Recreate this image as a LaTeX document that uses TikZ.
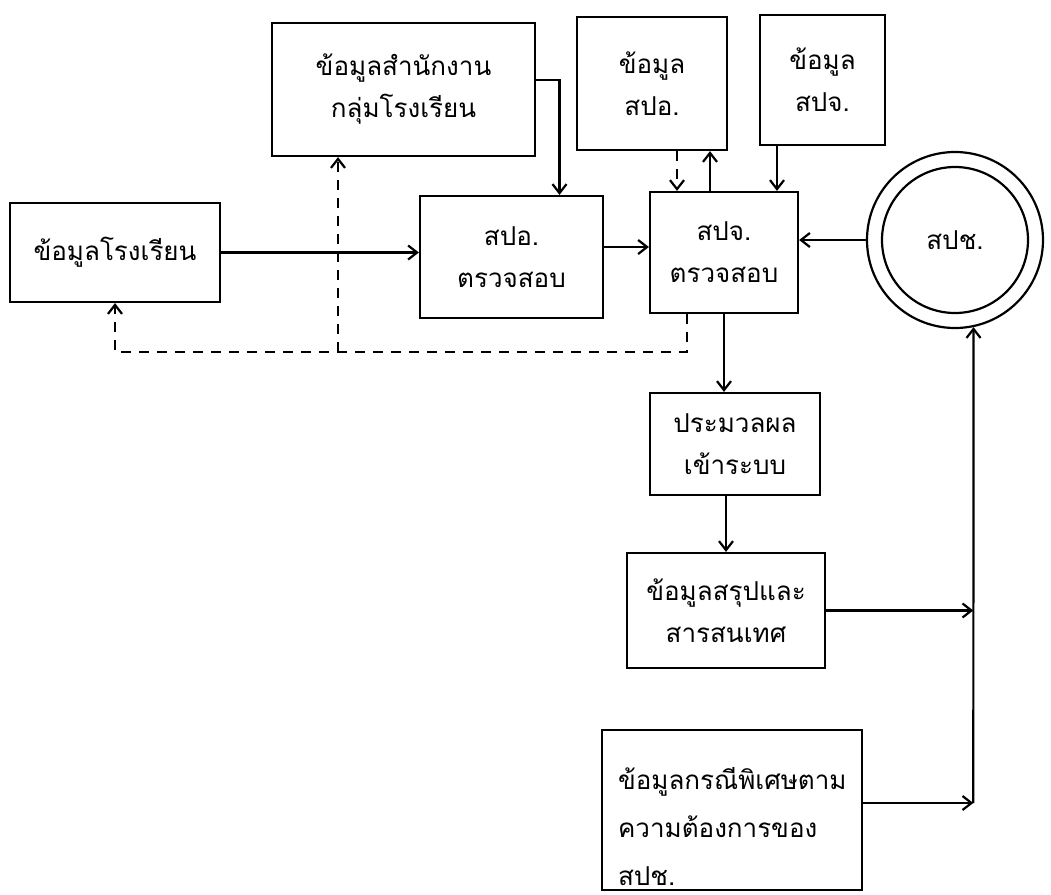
\documentclass[tikz,border=0pt]{standalone}
\usepackage{fontspec}
\usepackage{tikz}
\usetikzlibrary{arrows.meta}
\usetikzlibrary{positioning}
\newfontfamily\thaifont[Script=Thai]{Loma}

\begin{document}
\begin{tikzpicture}[x=0.5pt,y=-0.5pt,line width=1.1pt,>={Straight Barb[length=4.5pt,width=7pt]},box/.style={draw,rectangle,align=center,font=\thaifont\fontsize{13}{21}\selectfont},ring/.style={draw,circle,inner sep=0pt},dashline/.style={dash pattern=on 5pt off 4pt}]
  \useasboundingbox (0,0) rectangle (1051,895);
  \begin{scope}[every node/.style={box}]
    \node[minimum width=105pt,minimum height=49.5pt] (school) at (115,252.5) {ข้อมูลโรงเรียน};
    \node[minimum width=131.5pt,minimum height=66.5pt] (office) at (403.5,89.5) {ข้อมูลสำนักงาน\\กลุ่มโรงเรียน};
    \node[minimum width=91.5pt,minimum height=61pt] (spoChk) at (511.5,257) {สปอ.\\ตรวจสอบ};
    \node[minimum width=75pt,minimum height=66.5pt] (spoData) at (652,83.5) {ข้อมูล\\สปอ.};
    \node[minimum width=62.5pt,minimum height=65pt] (spjData) at (822.5,80) {ข้อมูล\\สปจ.};
    \node[minimum width=74pt,minimum height=60.5pt] (spjChk) at (724,252.5) {สปจ.\\ตรวจสอบ};
    \node[minimum width=85pt,minimum height=51pt] (process) at (735,444) {ประมวลผล\\เข้าระบบ};
    \node[minimum width=99pt,minimum height=57.5pt] (summary) at (726,610.5) {ข้อมูลสรุปและ\\สารสนเทศ};
    \node[minimum width=130pt,minimum height=80pt,label={[draw=none,align=left,font=\thaifont\fontsize{13}{24}\selectfont,anchor=south west,inner sep=1pt,xshift=7pt,yshift=1pt]south west:ข้อมูลกรณีพิเศษตาม\\ความต้องการของ\\สปช.}] (special) at (732,810) {};
  \end{scope}
  \node[ring,minimum size=88pt] (spch) at (955,240) {};
  \node[ring,minimum size=73pt,font=\thaifont\fontsize{13}{21}\selectfont] (spchIn) at (spch) {สปช.};
  \coordinate (bus) at (973.3,803);
  \coordinate (fbk) at (school.south |- 0,352);
  \coordinate (branch) at ([xshift=-32.75pt]office.south |- fbk);
  \draw[->] (school.east) -- (school.east -| spoChk.west);
  \draw[->] ([yshift=4.75pt]office.east) -| ([xshift=24pt]spoChk.north);
  \draw[->] ([yshift=5pt]spoChk.east) -- ([yshift=5pt]spoChk.east -| spjChk.west);
  \draw[->,dashline] ([xshift=-23.5pt]spjChk.north |- spoData.south) -- ([xshift=-23.5pt]spjChk.north);
  \draw[->] ([xshift=-7pt]spjChk.north) -- ([xshift=-7pt]spjChk.north |- spoData.south);
  \draw[->] ([xshift=26.5pt]spjChk.north |- spjData.south) -- ([xshift=26.5pt]spjChk.north);
  \draw[->] (spch.west) -- (spch.west -| spjChk.east);
  \draw[->] (spjChk.south) -- (spjChk.south |- process.north);
  \draw[->] (summary.north |- process.south) -- (summary.north);
  \draw[->] (bus) -- (spch.-78);
  \draw[->] (summary.east) -- (summary.east -| bus);
  \draw[->] ([yshift=3.5pt]special.east) -- ([yshift=3.5pt]special.east -| bus);
  \draw[->,dashline] ([xshift=-18.5pt]spjChk.south) |- (fbk) -- (school.south);
  \draw[->,dashline] (branch) -- (branch |- office.south);
\end{tikzpicture}
\end{document}
